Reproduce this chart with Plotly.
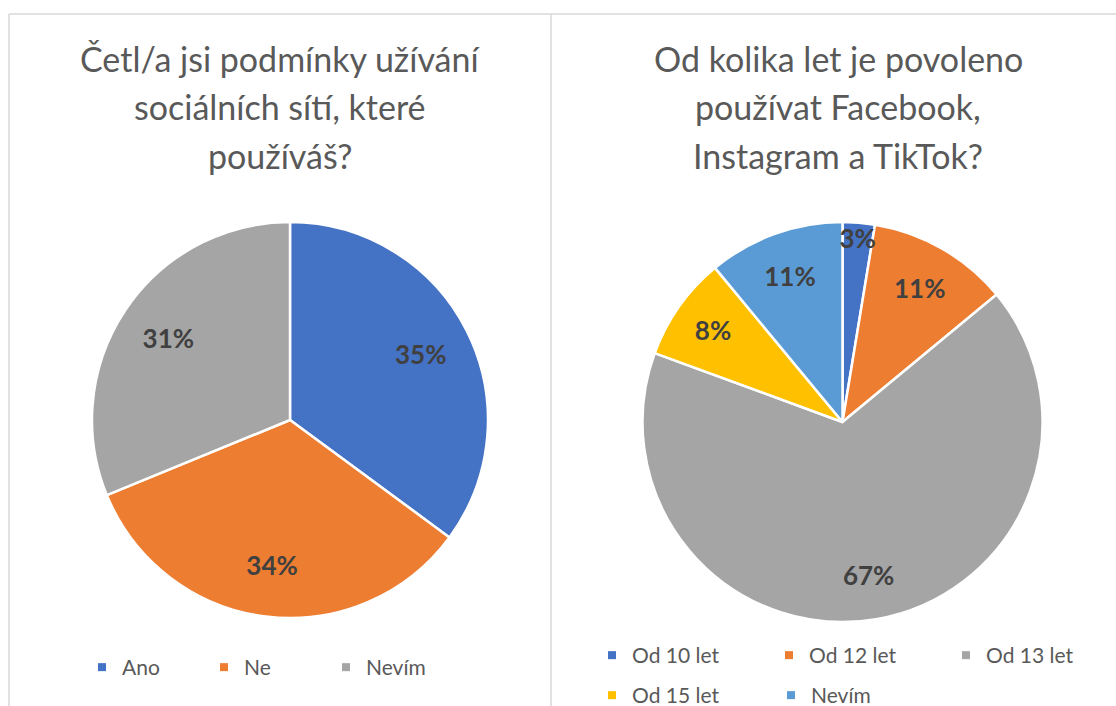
import plotly.graph_objects as go

# Left chart data
left_labels = ["Ano", "Ne", "Nevím"]
left_values = [35.1, 33.7, 31.2]
left_colors = ["#4472C4", "#ED7D31", "#A5A5A5"]
left_title = ["Četl/a jsi podmínky užívání", "sociálních sítí, které", "používáš?"]

# Right chart data
right_labels = ["Od 10 let", "Od 12 let", "Od 13 let", "Od 15 let", "Nevím"]
right_values = [2.6, 11.4, 66.6, 8.4, 11.0]
right_colors = ["#4472C4", "#ED7D31", "#A5A5A5", "#FFC000", "#5B9BD5"]
right_title = ["Od kolika let je povoleno", "používat Facebook,", "Instagram a TikTok?"]

W, H = 1116, 706
FONT = "Lato"
TXT = "#595959"
LBL = "#404040"


def px(x):
    return x / W


def py(y):
    return 1 - y / H


def add_pie(fig, labels, values, colors, dom, hole):
    # visible slices
    fig.add_trace(go.Pie(
        labels=labels, values=values, sort=False, direction="clockwise", rotation=0,
        marker=dict(colors=colors, line=dict(color="white", width=2.5)),
        textinfo="none", domain=dom, showlegend=False, hoverinfo="label+percent",
    ))
    # transparent ring carrying the percentage labels (pushes labels outward like Excel)
    fig.add_trace(go.Pie(
        labels=labels, values=values, sort=False, direction="clockwise", rotation=0,
        hole=hole, showlegend=False, hoverinfo="skip",
        marker=dict(colors=["rgba(0,0,0,0)"] * len(values), line=dict(width=0)),
        texttemplate="%{percent:.0%}", textposition="inside", insidetextorientation="horizontal",
        textfont=dict(family=FONT, size=26, color=LBL, weight="bold"),
        domain=dom,
    ))


def add_legend_entries(fig, labels, colors, legend_id):
    for lab, col in zip(labels, colors):
        fig.add_trace(go.Scatter(
            x=[None], y=[None], mode="markers", name=lab, legend=legend_id,
            marker=dict(symbol="square", size=8, color=col, line=dict(width=0)),
            hoverinfo="skip",
        ))


fig = go.Figure()
add_pie(fig, left_labels, left_values, left_colors,
        dict(x=[px(92), px(488)], y=[py(618), py(222)]), 0.48)
add_pie(fig, right_labels, right_values, right_colors,
        dict(x=[px(642.5), px(1042.5)], y=[py(622), py(222)]), 0.55)

add_legend_entries(fig, left_labels, left_colors, "legend")
add_legend_entries(fig, right_labels[:3], right_colors[:3], "legend2")
add_legend_entries(fig, right_labels[3:], right_colors[3:], "legend3")

annotations = []
for i, line in enumerate(left_title):
    annotations.append(dict(text=line, x=px(280), y=py(59 + 48 * i), xref="paper", yref="paper",
                            showarrow=False, xanchor="center", yanchor="middle",
                            font=dict(family=FONT, size=34, color=TXT)))
for i, line in enumerate(right_title):
    annotations.append(dict(text=line, x=px(838), y=py(59 + 48 * i), xref="paper", yref="paper",
                            showarrow=False, xanchor="center", yanchor="middle",
                            font=dict(family=FONT, size=34, color=TXT)))

border = dict(color="#D9D9D9", width=1.5)
shapes = [
    dict(type="line", xref="paper", yref="paper", x0=px(9), x1=1, y0=py(14), y1=py(14), line=border),
    dict(type="line", xref="paper", yref="paper", x0=px(9), x1=px(9), y0=py(14), y1=0, line=border),
    dict(type="line", xref="paper", yref="paper", x0=px(551), x1=px(551), y0=py(14), y1=0, line=border),
]

legend_common = dict(orientation="h", xanchor="left", yanchor="top",
                     font=dict(family=FONT, size=21, color=TXT), bgcolor="rgba(0,0,0,0)",
                     itemwidth=30)

fig.update_layout(
    width=W, height=H, margin=dict(l=0, r=0, t=0, b=0, autoexpand=False),
    paper_bgcolor="white", plot_bgcolor="white",
    xaxis=dict(visible=False), yaxis=dict(visible=False),
    annotations=annotations, shapes=shapes,
    uniformtext=dict(minsize=26, mode="show"),
    legend=dict(x=px(82), y=py(647), entrywidth=77, **legend_common),
    legend2=dict(x=px(592), y=py(635), entrywidth=132, **legend_common),
    legend3=dict(x=px(592), y=py(675), entrywidth=134, **legend_common),
)

fig.write_html("out.html", config={"displayModeBar": False},
               post_script="document.body.style.margin='0';document.body.style.overflow='hidden';")
